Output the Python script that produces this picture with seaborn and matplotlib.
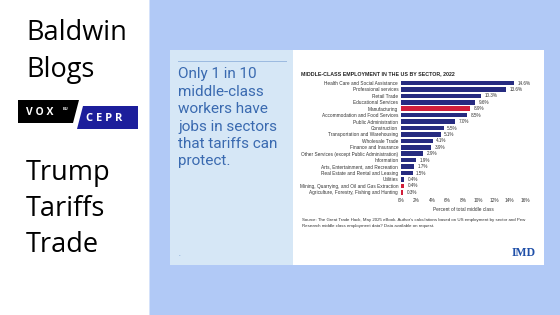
import matplotlib
matplotlib.use("Agg")
import matplotlib.pyplot as plt
from matplotlib.patches import Rectangle, Polygon
import pandas as pd
import seaborn as sns

# data
sectors = [
    "Health Care and Social Assistance",
    "Professional services",
    "Retail Trade",
    "Educational Services",
    "Manufacturing",
    "Accommodation and Food Services",
    "Public Administration",
    "Construction",
    "Transportation and Warehousing",
    "Wholesale Trade",
    "Finance and Insurance",
    "Other Services (except Public Administration)",
    "Information",
    "Arts, Entertainment, and Recreation",
    "Real Estate and Rental and Leasing",
    "Utilities",
    "Mining, Quarrying, and Oil and Gas Extraction",
    "Agriculture, Forestry, Fishing and Hunting",
]
shares = [14.6, 13.6, 10.3, 9.6, 8.9, 8.5, 7.0, 5.5, 5.1, 4.1, 3.9, 2.9, 1.9, 1.7, 1.5, 0.4, 0.4, 0.3]
protectable = ["Manufacturing", "Mining, Quarrying, and Oil and Gas Extraction",
               "Agriculture, Forestry, Fishing and Hunting"]
xticks = [0, 2, 4, 6, 8, 10, 12, 14, 16]

df = pd.DataFrame({"sector": sectors, "share": shares})
df["group"] = ["tradable" if s in protectable else "other" for s in df["sector"]]

W, H = 560, 315
fig = plt.figure(figsize=(W / 100, H / 100), dpi=100)
fig.patch.set_facecolor("white")

def box(x0, y0, x1, y1, color):
    # rectangle in pixel coords (y from top)
    fig.patches.append(Rectangle((x0 / W, 1 - y1 / H), (x1 - x0) / W, (y1 - y0) / H,
                                 transform=fig.transFigure, facecolor=color,
                                 edgecolor="none", zorder=-1))

def poly(pts, color):
    fig.patches.append(Polygon([(x / W, 1 - y / H) for x, y in pts], closed=True,
                               transform=fig.transFigure, facecolor=color,
                               edgecolor="none", zorder=-1))

def txt(x, y, s, **kw):
    fig.text(x / W, 1 - y / H, s, **kw)

# backgrounds
box(150, 0, 560, 315, "#b1c9f6")
box(148.5, 0, 150, 315, "#d5e2fa")
box(170, 50, 293, 265, "#d6e7f6")
box(293, 50, 544, 265, "white")
box(178, 61, 287, 61.6, "#9dbbe0")

# left panel
left_font = ["Open Sans", "DejaVu Sans"]
for s, y in [("Baldwin", 33), ("Blogs", 70), ("Trump", 173), ("Tariffs", 209), ("Trade", 245)]:
    txt(26, y, s, fontsize=19.5, color="black", family=left_font, va="center")

poly([(18, 100), (79, 100), (73, 123), (18, 123)], "black")
poly([(83, 106), (138, 106), (138, 129), (77, 129)], "#1c1e9b")
txt(26, 112, "V O X", fontsize=7.5, color="white", weight="bold", family=left_font, va="center")
txt(63, 108.5, "EU", fontsize=3.2, color="white", weight="bold", family=left_font, va="center")
txt(86, 118.5, "C E P R", fontsize=8, color="white", weight="bold", family=left_font, va="center")

# headline in the light panel
headline = ["Only 1 in 10", "middle-class", "workers have", "jobs in sectors",
            "that tariffs can", "protect."]
for i, line in enumerate(headline):
    txt(178, 74 + i * 17.5, line, fontsize=11, color="#3a6ab0",
        family=["Roboto", "DejaVu Sans"], va="center")
txt(178.5, 256, ".", fontsize=4, color="#3d6fb4")

# chart
chart_font = ["Liberation Sans", "DejaVu Sans"]
ax = fig.add_axes([401 / W, 1 - 195.5 / H, (525 - 401) / W, (195.5 - 79.8) / H])
ax.set_zorder(2)
sns.barplot(data=df, x="share", y="sector", hue="group",
            palette={"other": "#262b80", "tradable": "#d11f3a"}, saturation=1,
            dodge=False, legend=False, width=0.72, ax=ax)
ax.set_facecolor("white")
ax.set_xlim(0, 16)
ax.set_ylim(len(sectors) - 0.5, -0.5)
ax.set_xticks(xticks)
ax.set_xticklabels([f"{t}%" for t in xticks], fontsize=3.4, family=chart_font, color="#333333")
ax.set_yticks(range(len(sectors)))
ax.set_yticklabels(sectors, fontsize=3.4, family=chart_font, color="#333333")
ax.tick_params(length=0, pad=2)
ax.set_ylabel("")
ax.set_xlabel("Percent of total middle class", fontsize=3.4, family=chart_font,
              color="#333333", labelpad=3)
for sp in ax.spines.values():
    sp.set_visible(False)
for i, v in enumerate(shares):
    ax.text(v + 0.45, i, f"{v:.1f}%", fontsize=3.3, va="center", family=chart_font,
            color="#333333")

txt(301, 74, "MIDDLE-CLASS EMPLOYMENT IN THE US BY SECTOR, 2022", fontsize=3.75,
    weight="bold", family=chart_font, color="#222222", va="center")
txt(302, 220, "Source: The Great Trade Hack, May 2025 eBook. Author's calculations based on US "
    "employment by sector and Pew", fontsize=3.2, family=chart_font, color="#333333", va="center")
txt(302, 226.5, "Research middle class employment data? Data available on request.",
    fontsize=3.2, family=chart_font, color="#333333", va="center")
txt(512, 253, "IMD", fontsize=8.5, weight="bold", family=["Liberation Serif", "DejaVu Serif"],
    color="#1f4fa8", va="center")

fig.savefig("out.png", dpi=100)
